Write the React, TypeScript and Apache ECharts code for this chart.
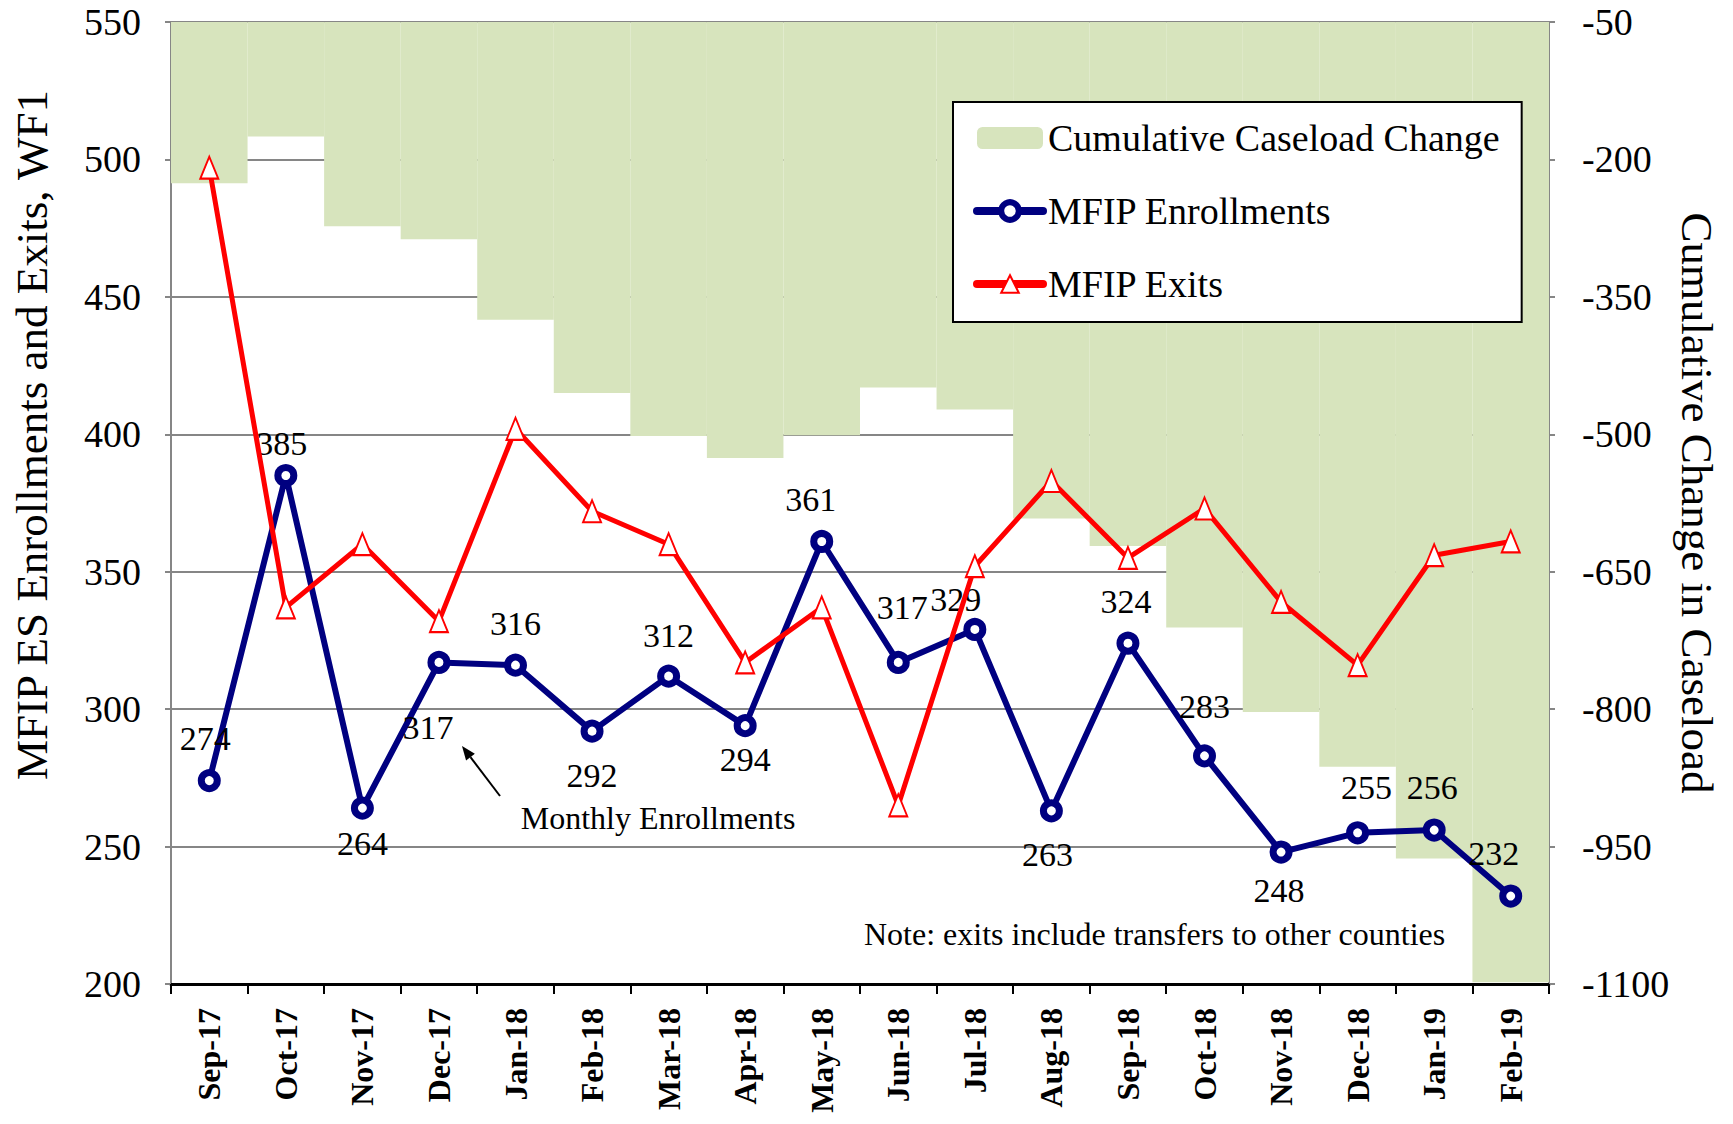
import React, { useEffect, useRef } from 'react';
import * as echarts from 'echarts';

const categories = ['Sep-17', 'Oct-17', 'Nov-17', 'Dec-17', 'Jan-18', 'Feb-18', 'Mar-18', 'Apr-18', 'May-18', 'Jun-18', 'Jul-18', 'Aug-18', 'Sep-18', 'Oct-18', 'Nov-18', 'Dec-18', 'Jan-19', 'Feb-19'];
const enrollments = [274, 385, 264, 317, 316, 292, 312, 294, 361, 317, 329, 263, 324, 283, 248, 255, 256, 232];
const exits = [497, 337, 360, 332, 402, 372, 360, 317, 337, 265, 352, 383, 355, 373, 339, 316, 356, 361];
const cumulativeChange = [-226, -175, -273, -287, -375, -455, -502, -526, -501, -449, -473, -592, -622, -711, -803, -863, -963, -1098];

const leftAxis = { min: 200, max: 550, interval: 50 };
const rightAxis = { min: -1100, max: -50, interval: 150 };

// label placement (layout only)
const labelOffsets: [number, number][] = [
  [-4, -42], [-4, -32], [0, 35], [-11, 65], [0, -42], [0, 44], [0, -41], [0, 34], [-11, -42],
  [4, -55], [-19, -30], [-4, 44], [-2, -42], [0, -49], [-2, 38], [9, -45], [-2, -43], [-17, -43],
];

const SERIF = "'Liberation Serif', 'Times New Roman', serif";

export default function App() {
  const ref = useRef<HTMLDivElement>(null);
  useEffect(() => {
    if (!ref.current) return;
    const chart = echarts.init(ref.current, undefined, { renderer: 'svg' });
    const tip = [462, 746];
    const from = [500, 796];
    const dx = tip[0] - from[0], dy = tip[1] - from[1];
    const len = Math.sqrt(dx * dx + dy * dy);
    const ux = dx / len, uy = dy / len;
    const hl = 14, hw = 5.5;
    const bx = tip[0] - ux * hl, by = tip[1] - uy * hl;
    const px = -uy * hw, py = ux * hw;

    const option: any = {
      animation: false,
      backgroundColor: '#ffffff',
      grid: { left: 171, right: 184, top: 22, bottom: 140, containLabel: false },
      legend: {
        orient: 'vertical',
        left: 953,
        top: 102,
        itemWidth: 66,
        itemHeight: 22,
        itemGap: 33,
        padding: [16, 22, 18, 20],
        backgroundColor: '#ffffff',
        borderColor: '#000000',
        borderWidth: 2,
        textStyle: { fontFamily: SERIF, fontSize: 38, color: '#000', lineHeight: 40 },
        data: [
          { name: 'Cumulative Caseload Change' },
          { name: 'MFIP Enrollments', lineStyle: { width: 8, cap: 'round' }, itemStyle: { borderWidth: 6 } },
          { name: 'MFIP Exits', lineStyle: { width: 8, cap: 'round' }, itemStyle: { borderWidth: 2 } },
        ],
      },
      xAxis: {
        type: 'category',
        data: categories,
        boundaryGap: true,
        axisLine: { onZero: false, lineStyle: { color: '#000', width: 3 } },
        axisTick: { show: true, length: 10, interval: 0, alignWithLabel: false, lineStyle: { color: '#000', width: 2 } },
        axisLabel: { rotate: 90, interval: 0, margin: 24, fontFamily: SERIF, fontWeight: 'bold', fontSize: 32, color: '#000' },
        splitLine: { show: false },
      },
      yAxis: [
        {
          type: 'value',
          position: 'left',
          min: leftAxis.min,
          max: leftAxis.max,
          interval: leftAxis.interval,
          axisLine: { show: true, lineStyle: { color: '#868686', width: 2 } },
          axisTick: { show: true, length: 6, lineStyle: { color: '#868686', width: 2 } },
          axisLabel: { margin: 30, fontFamily: SERIF, fontSize: 38, color: '#000', formatter: (v: number) => String(v) },
          splitLine: { show: true, lineStyle: { color: '#868686', width: 2 } },
        },
        {
          type: 'value',
          position: 'right',
          min: rightAxis.min,
          max: rightAxis.max,
          interval: rightAxis.interval,
          axisLine: { show: true, lineStyle: { color: '#868686', width: 2 } },
          axisTick: { show: true, length: 6, lineStyle: { color: '#868686', width: 2 } },
          axisLabel: { margin: 33, fontFamily: SERIF, fontSize: 38, color: '#000', formatter: (v: number) => String(v) },
          splitLine: { show: false },
        },
      ],
      series: [
        {
          name: 'Cumulative Caseload Change',
          type: 'bar',
          yAxisIndex: 1,
          data: cumulativeChange,
          barCategoryGap: '0%',
          barGap: '0%',
          clip: true,
          itemStyle: { color: '#D7E4BD' },
          z: 1,
        },
        {
          name: 'MFIP Enrollments',
          type: 'line',
          yAxisIndex: 0,
          data: enrollments.map((v, i) => ({ value: v, label: { offset: labelOffsets[i] } })),
          symbol: 'circle',
          symbolSize: 16,
          showAllSymbol: true,
          lineStyle: { color: '#000080', width: 6 },
          itemStyle: { color: '#ffffff', borderColor: '#000080', borderWidth: 7 },
          label: { show: true, position: 'inside', fontFamily: SERIF, fontSize: 34, color: '#000', textBorderWidth: 0 },
          z: 3,
        },
        {
          name: 'MFIP Exits',
          type: 'line',
          yAxisIndex: 0,
          data: exits,
          symbol: 'triangle',
          symbolSize: [18, 22],
          showAllSymbol: true,
          lineStyle: { color: '#FF0000', width: 5 },
          itemStyle: { color: '#ffffff', borderColor: '#FF0000', borderWidth: 2 },
          z: 4,
        },
      ],
      graphic: [
        {
          type: 'text', x: 32, y: 435, rotation: Math.PI / 2, z: 10,
          style: { text: 'MFIP ES Enrollments and Exits, WF1', fill: '#000', font: `45px ${SERIF}`, align: 'center', verticalAlign: 'middle', textAlign: 'center', textVerticalAlign: 'middle' },
        },
        {
          type: 'text', x: 1697, y: 503, rotation: -Math.PI / 2, z: 10,
          style: { text: 'Cumulative Change in Caseload', fill: '#000', font: `45px ${SERIF}`, align: 'center', verticalAlign: 'middle', textAlign: 'center', textVerticalAlign: 'middle' },
        },
        {
          type: 'text', x: 658, y: 818, z: 10,
          style: { text: 'Monthly Enrollments', fill: '#000', font: `32px ${SERIF}`, align: 'center', verticalAlign: 'middle', textAlign: 'center', textVerticalAlign: 'middle' },
        },
        {
          type: 'text', x: 864, y: 934, z: 10,
          style: { text: 'Note: exits include transfers to other counties', fill: '#000', font: `32px ${SERIF}`, align: 'left', verticalAlign: 'middle', textAlign: 'left', textVerticalAlign: 'middle' },
        },
        {
          type: 'line', z: 10,
          shape: { x1: from[0], y1: from[1], x2: bx, y2: by },
          style: { stroke: '#000', lineWidth: 2 },
        },
        {
          type: 'polygon', z: 10,
          shape: { points: [[tip[0], tip[1]], [bx + px, by + py], [bx - px, by - py]] },
          style: { fill: '#000' },
        },
      ],
    };
    chart.setOption(option);
    return () => chart.dispose();
  }, []);
  return <div ref={ref} style={{ position: 'fixed', left: 0, top: 0, width: 1733, height: 1124 }} />;
}
